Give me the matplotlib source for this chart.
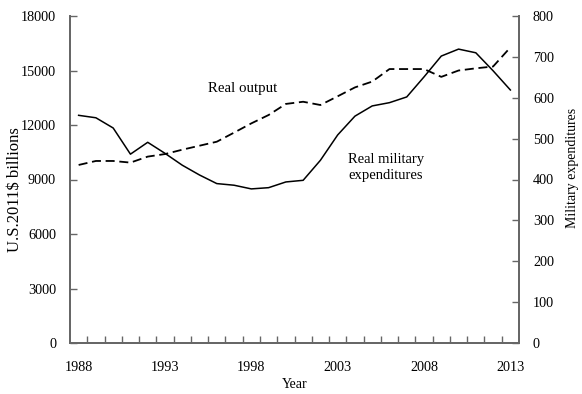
import matplotlib
matplotlib.use("Agg")
import matplotlib.pyplot as plt
from matplotlib.ticker import MultipleLocator, FixedLocator

plt.rcParams['font.family'] = ['Liberation Serif', 'DejaVu Serif']

years = list(range(1988, 2014))
real_output = [9800, 10020, 10020, 9930, 10260, 10400, 10640, 10860, 11080, 11580,
               12090, 12550, 13160, 13280, 13100, 13580, 14070, 14390, 15080, 15080,
               15080, 14650, 15000, 15120, 15220, 16270]
military = [557, 551, 526, 462, 491, 464, 435, 411, 390, 386,
            377, 380, 394, 398, 447, 509, 555, 580, 588, 602,
            651, 702, 719, 710, 666, 619]
xtick_years = [1988, 1993, 1998, 2003, 2008, 2013]

fs_tick = 10.2
spine_col = '#666666'

fig = plt.figure(figsize=(5.82, 3.94), dpi=100)
ax = fig.add_axes([70/582, 1-343/394, (519-70)/582, (343-16)/394])
ax2 = ax.twinx()

ax.plot(years, real_output, color='black', lw=1.3, dashes=(5, 2.6))
ax2.plot(years, military, color='black', lw=1.1)

ax.set_xlim(1987.5, 2013.5)
ax.set_ylim(0, 18000)
ax2.set_ylim(0, 800)
ax.yaxis.set_major_locator(MultipleLocator(3000))
ax2.yaxis.set_major_locator(MultipleLocator(100))
ax.xaxis.set_major_locator(FixedLocator(xtick_years))
ax.xaxis.set_minor_locator(FixedLocator([y + 0.5 for y in years[:-1]]))

ax.tick_params(axis='x', which='major', length=0, pad=13, labelsize=fs_tick)
ax.tick_params(axis='x', which='minor', direction='in', length=5, width=1, color=spine_col)
ax.tick_params(axis='y', direction='in', length=5, width=1, color=spine_col, pad=10, labelsize=fs_tick)
ax2.tick_params(axis='y', direction='in', length=5, width=1, color=spine_col, pad=10, labelsize=fs_tick)

for a in (ax, ax2):
    a.spines['top'].set_visible(False)
    for s in ('left', 'right', 'bottom'):
        a.spines[s].set_color(spine_col)
        a.spines[s].set_linewidth(1.3)

ax.set_xlabel('Year', fontsize=10, labelpad=3)
ax.set_ylabel('U.S.2011$ billions', fontsize=12)
ax.yaxis.set_label_coords(-0.104, 0.47)
ax2.set_ylabel('Military expenditures', fontsize=10, rotation=90)
ax2.yaxis.set_label_coords(1.105, 0.535)

ax.text(1997.5, 14000, 'Real output', fontsize=10.7, ha='center', va='center')
ax.text(2003.6, 9650, 'Real military\nexpenditures', fontsize=10.5, ha='left', va='center',
        linespacing=1.3)

fig.savefig('out.png', dpi=100)
